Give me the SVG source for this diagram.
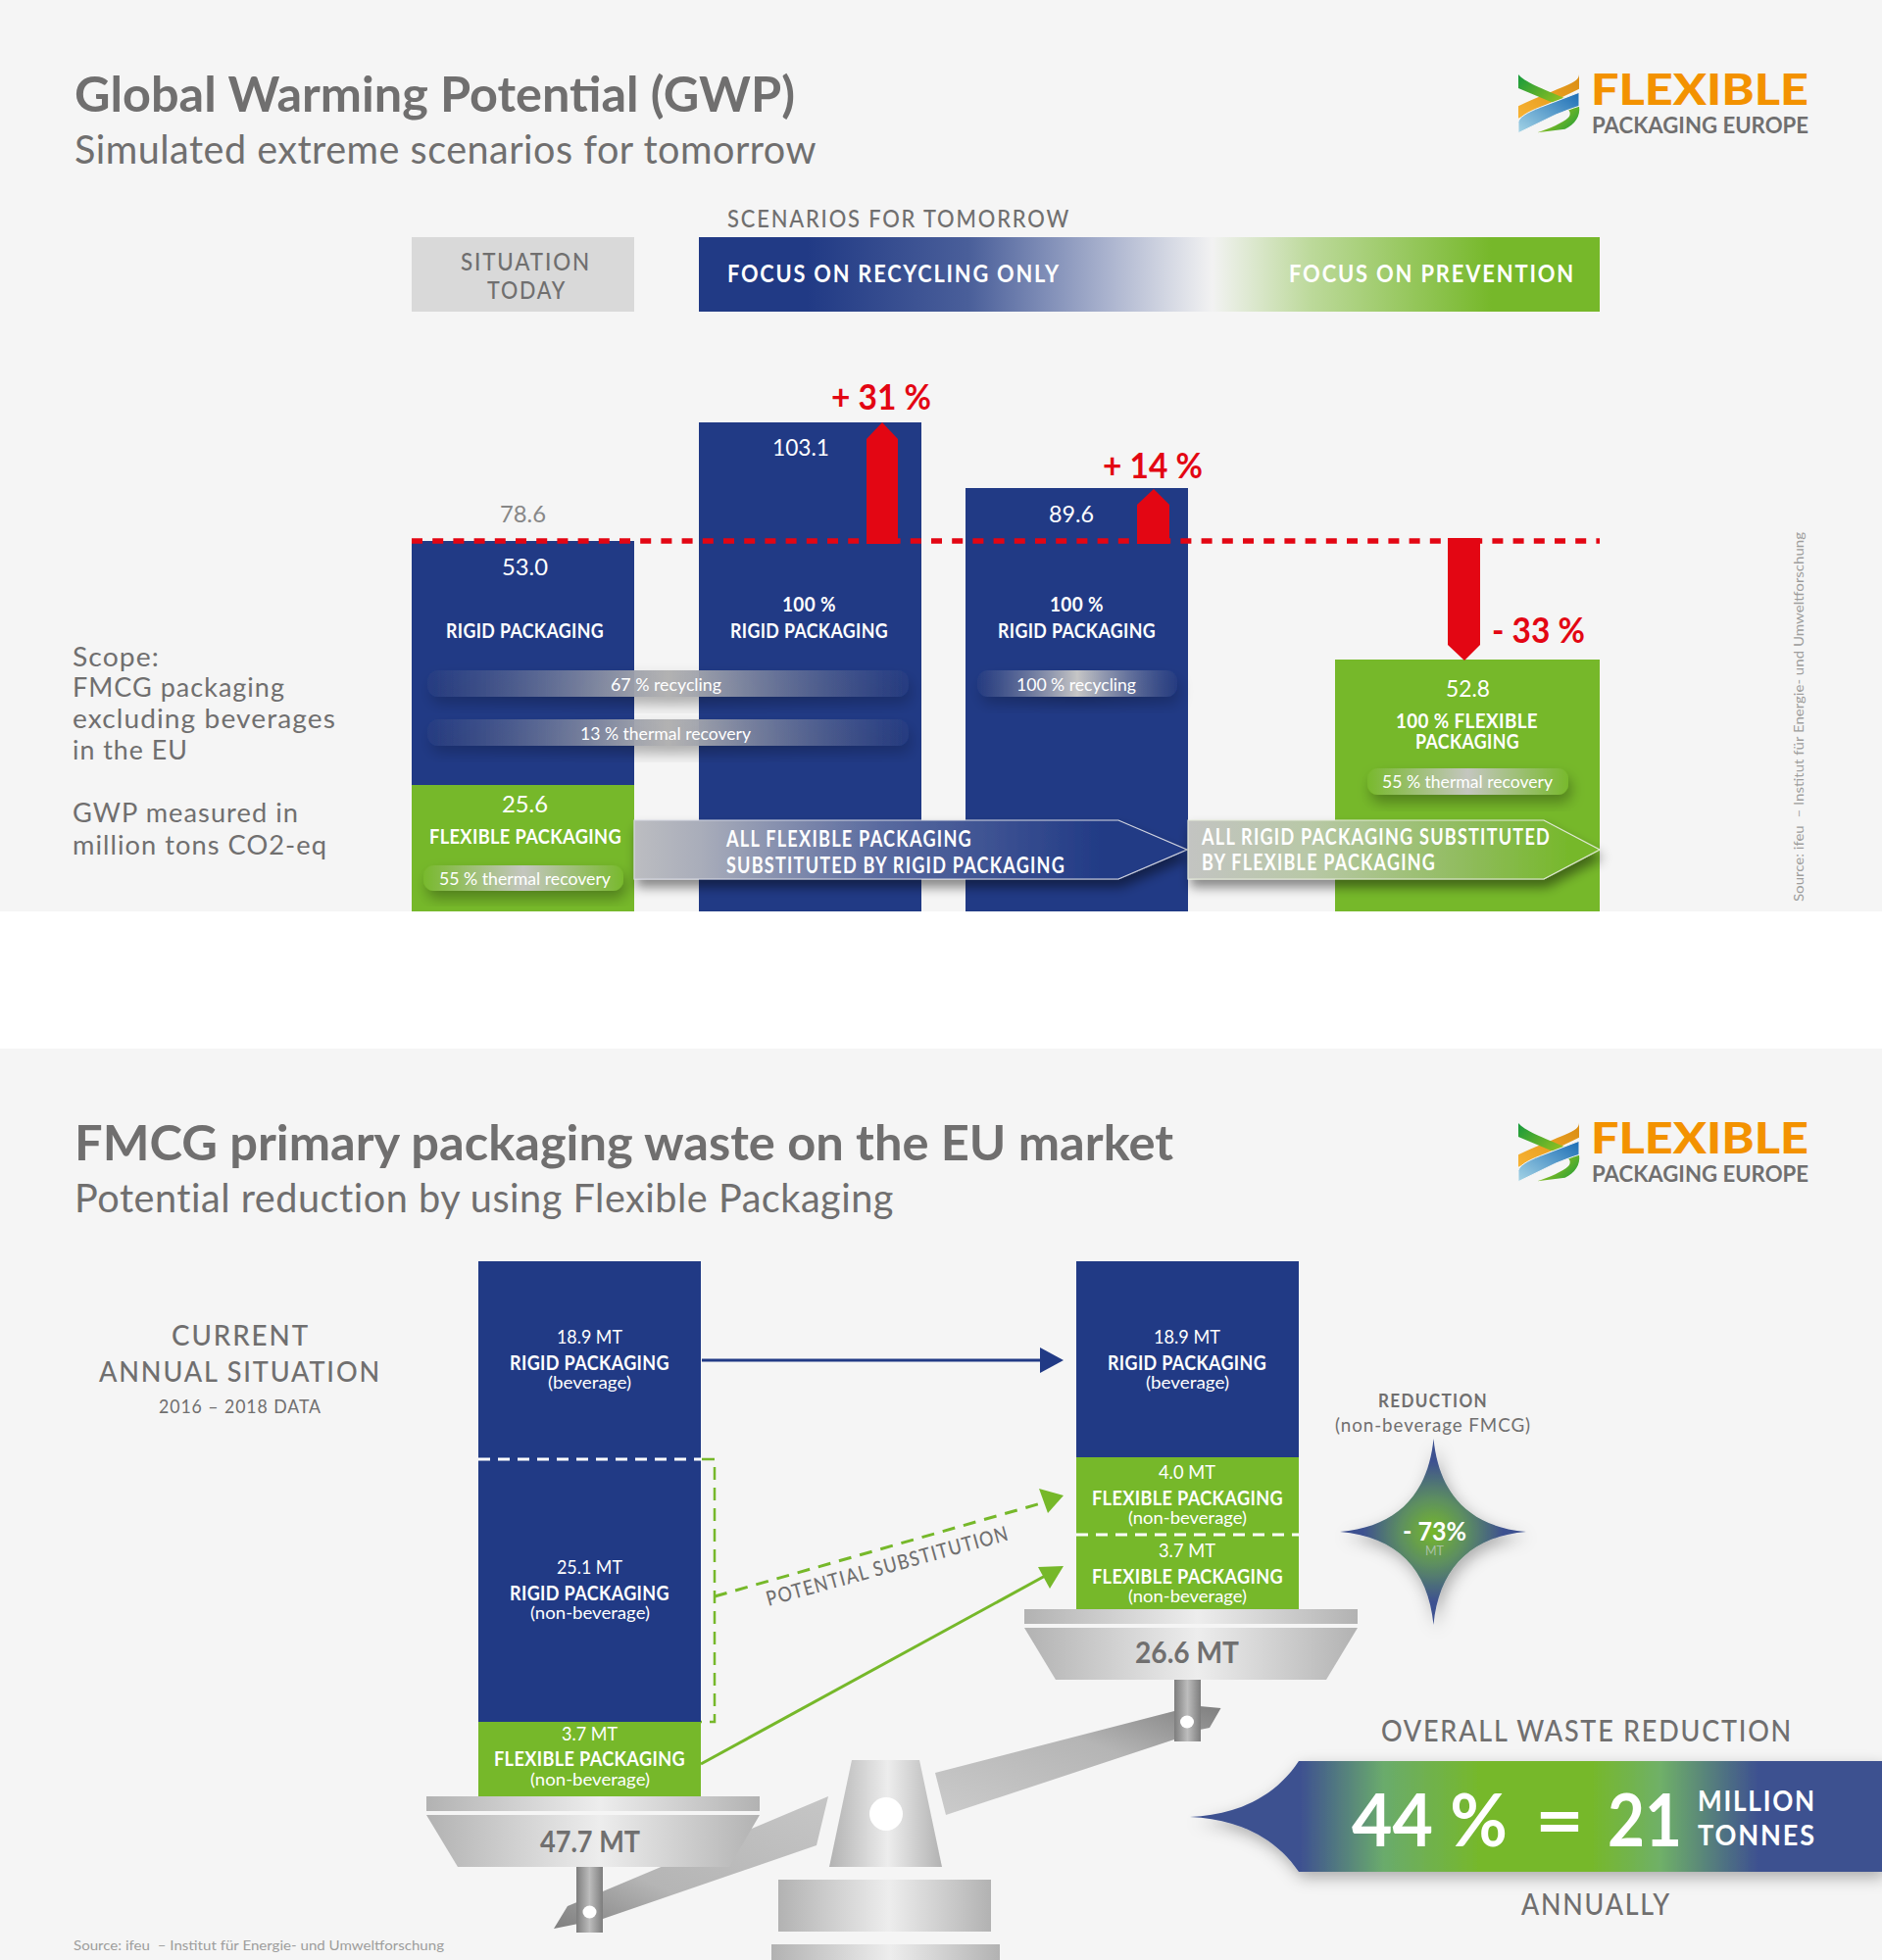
<svg xmlns="http://www.w3.org/2000/svg" width="1920" height="2000" viewBox="0 0 1920 2000">
<style>
text{font-family:"Lato","Noto Sans","Liberation Sans",sans-serif;white-space:pre}
.title{font-size:50px;font-weight:700;fill:#706f6f}
.sub{font-size:40px;fill:#706f6f;letter-spacing:.5px}
.lab{font-size:26px;fill:#706f6f;font-weight:400;letter-spacing:1px}
.head{font-size:24px;fill:#706f6f;letter-spacing:2px;font-weight:500}
.whead{font-size:24px;fill:#fff;font-weight:700;letter-spacing:2px}
.val{font-size:24px;fill:#fff}
.red{font-size:37px;fill:#e30613;font-weight:700}
.pk{font-size:20px;fill:#fff;font-weight:700;letter-spacing:.4px}
.ar{font-size:22px;fill:#fff;font-weight:700;letter-spacing:1.500px}
.sm{font-size:18px;fill:#fff}
.blue{fill:#213a85}.green{fill:#76b82a}
.metal{fill:url(#metal)}
.post{fill:url(#post)}
.src{font-size:14px;fill:#9d9d9c}
.w{fill:#fff}
</style>
<defs>
<linearGradient id="scen" x1="0" x2="1" y1="0" y2="0"><stop offset=".12" stop-color="#213a85"/><stop offset=".3" stop-color="#4a5f9a"/><stop offset=".45" stop-color="#a8b1cd"/><stop offset=".57" stop-color="#f2f2f2"/><stop offset=".68" stop-color="#bcd99a"/><stop offset=".88" stop-color="#76b82a"/></linearGradient>
<linearGradient id="band" x1="0" x2="1" y1="0" y2="0"><stop offset="0" stop-color="#2a3f82" stop-opacity=".6"/><stop offset=".5" stop-color="#b2b2b2"/><stop offset="1" stop-color="#2a3f82" stop-opacity=".6"/></linearGradient>
<linearGradient id="band2" x1="0" x2="1" y1="0" y2="0"><stop offset="0" stop-color="#2a3f82" stop-opacity=".6"/><stop offset=".5" stop-color="#c6c6c6"/><stop offset="1" stop-color="#2a3f82" stop-opacity=".6"/></linearGradient>
<linearGradient id="pill" x1="0" x2="1" y1="0" y2="0"><stop offset="0" stop-color="#78b92d"/><stop offset=".5" stop-color="#c4c6bf"/><stop offset="1" stop-color="#78b92d"/></linearGradient>
<linearGradient id="arrB" x1="0" x2="1" y1="0" y2="0"><stop offset="0" stop-color="#bcbdc1"/><stop offset=".12" stop-color="#a9adba"/><stop offset=".45" stop-color="#58699f"/><stop offset=".85" stop-color="#213a85"/></linearGradient>
<linearGradient id="arrG" x1="0" x2="1" y1="0" y2="0"><stop offset="0" stop-color="#c3c4c2"/><stop offset=".3" stop-color="#b8c8a6"/><stop offset=".7" stop-color="#8dbb58"/><stop offset=".93" stop-color="#76b82a"/></linearGradient>
<linearGradient id="metal" x1="0" x2="1" y1="0" y2="0"><stop offset="0" stop-color="#b2b2b2"/><stop offset=".52" stop-color="#ededed"/><stop offset="1" stop-color="#b2b2b2"/></linearGradient>
<linearGradient id="post" x1="0" x2="1" y1="0" y2="0"><stop offset="0" stop-color="#7d7d7d"/><stop offset=".5" stop-color="#bdbdbd"/><stop offset="1" stop-color="#7d7d7d"/></linearGradient>
<linearGradient id="beamL" x1="0" x2="1" y1="1" y2="0"><stop offset="0" stop-color="#7f7f7f"/><stop offset=".35" stop-color="#b5b5b5"/><stop offset="1" stop-color="#c6c6c6"/></linearGradient>
<linearGradient id="beamR" x1="1" x2="0" y1="0" y2="1"><stop offset="0" stop-color="#7f7f7f"/><stop offset=".4" stop-color="#b5b5b5"/><stop offset="1" stop-color="#cbcbcb"/></linearGradient>
<linearGradient id="banner" gradientUnits="userSpaceOnUse" x1="1214" x2="1920" y1="0" y2="0"><stop offset=".16" stop-color="#3e5190"/><stop offset=".28" stop-color="#6aab6c"/><stop offset=".42" stop-color="#76b82a"/><stop offset=".58" stop-color="#76b82a"/><stop offset=".68" stop-color="#6fb068"/><stop offset=".82" stop-color="#3e5190"/></linearGradient>
<radialGradient id="star" cx=".5" cy=".5" r=".5"><stop offset="0" stop-color="#76b82a"/><stop offset=".35" stop-color="#5d8f60"/><stop offset=".75" stop-color="#3e5190"/></radialGradient>
<linearGradient id="lo" x1="0" x2="1" y1="1" y2="0"><stop offset="0" stop-color="#f8b333"/><stop offset="1" stop-color="#d98c12"/></linearGradient>
<linearGradient id="lb" x1="0" x2="1" y1="1" y2="0"><stop offset="0" stop-color="#a4d4e6"/><stop offset="1" stop-color="#1b6db5"/></linearGradient>
<linearGradient id="lg" x1="0" x2="1" y1="0" y2="1"><stop offset="0" stop-color="#159a3c"/><stop offset=".6" stop-color="#95c11f"/><stop offset="1" stop-color="#159a3c"/></linearGradient>
<filter id="sh" x="-10%" y="-40%" width="120%" height="200%"><feDropShadow dx="3" dy="8" stdDeviation="7" flood-color="#000" flood-opacity=".3"/></filter>
<filter id="shA" x="-10%" y="-40%" width="120%" height="200%"><feDropShadow dx="3" dy="8" stdDeviation="6" flood-color="#000" flood-opacity=".45"/></filter>
<filter id="shS" x="-30%" y="-30%" width="160%" height="160%"><feDropShadow dx="3" dy="6" stdDeviation="8" flood-color="#000" flood-opacity=".3"/></filter>
<marker id="mB" markerUnits="userSpaceOnUse" markerWidth="24" markerHeight="26" refX="1" refY="13" orient="auto"><path d="M0 0L24 13L0 26Z" fill="#213a85"/></marker>
<g id="logo">
<g transform="translate(1500 40) scale(.3333)">
<path d="M333 108V152L147 242V205C200 180 240 165 280 148C310 136 333 125 333 108Z" fill="url(#lo)"/>
<path d="M147 108C165 130 215 150 300 185L333 205C338 235 320 262 290 275L205 286C240 275 285 255 300 240C310 230 305 215 290 210L147 150Z" fill="url(#lg)"/>
<path d="M333 163V205C310 212 290 220 260 232L147 287V253C150 240 170 225 215 208Z" fill="url(#lb)" stroke="#f5f5f5" stroke-width="3"/>
</g>
<text x="1623" y="107" font-size="44" font-weight="900" fill="#f39200" textLength="222" lengthAdjust="spacingAndGlyphs">FLEXIBLE</text>
<text x="1624" y="136" font-size="23" font-weight="700" fill="#706f6f" textLength="221" lengthAdjust="spacingAndGlyphs">PACKAGING EUROPE</text>
</g>
</defs>

<rect width="1920" height="2000" fill="#f5f5f5"/>
<rect y="930" width="1920" height="140" fill="#fff"/>

<g id="chart1-header">
<text class="title" x="76" y="114" textLength="735" lengthAdjust="spacingAndGlyphs">Global Warming Potential (GWP)</text>
<text class="sub" x="76" y="167" textLength="757" lengthAdjust="spacingAndGlyphs">Simulated extreme scenarios for tomorrow</text>
</g>
<use href="#logo"/>

<g id="scenarios">
<text class="head" x="742" y="232" textLength="350" lengthAdjust="spacingAndGlyphs">SCENARIOS FOR TOMORROW</text>
<rect x="420" y="242" width="227" height="76" fill="#d9d9d9"/>
<text class="head" x="470" y="276" textLength="133" lengthAdjust="spacingAndGlyphs">SITUATION</text>
<text class="head" x="497" y="305" textLength="81" lengthAdjust="spacingAndGlyphs">TODAY</text>
<rect x="713" y="242" width="919" height="76" fill="url(#scen)"/>
<text class="whead" x="742" y="288" textLength="340" lengthAdjust="spacingAndGlyphs">FOCUS ON RECYCLING ONLY</text>
<text class="whead" x="1315" y="288" textLength="292" lengthAdjust="spacingAndGlyphs">FOCUS ON PREVENTION</text>
</g>

<g id="scope">
<text class="lab" x="74" y="680" textLength="89" lengthAdjust="spacingAndGlyphs">Scope:</text>
<text class="lab" x="74" y="711" textLength="217" lengthAdjust="spacingAndGlyphs">FMCG packaging</text>
<text class="lab" x="74" y="743" textLength="269" lengthAdjust="spacingAndGlyphs">excluding beverages</text>
<text class="lab" x="74" y="775" textLength="118" lengthAdjust="spacingAndGlyphs">in the EU</text>
<text class="lab" x="74" y="839" textLength="231" lengthAdjust="spacingAndGlyphs">GWP measured in</text>
<text class="lab" x="74" y="872" textLength="260" lengthAdjust="spacingAndGlyphs">million tons CO2-eq</text>
</g>

<g id="bar-today">
<rect class="blue" x="420" y="552" width="227" height="249"/>
<rect class="green" x="420" y="801" width="227" height="129"/>
</g>
<g id="bar-rigid-1"><rect class="blue" x="713" y="431" width="227" height="499"/></g>
<g id="bar-rigid-2"><rect class="blue" x="985" y="498" width="227" height="432"/></g>
<g id="bar-flex"><rect class="green" x="1362" y="673" width="270" height="257"/></g>

<g id="baseline"><line x1="420" y1="552" x2="1632" y2="552" stroke="#e30613" stroke-width="5.500" stroke-dasharray="11 10.200"/></g>

<g id="red-arrows" fill="#e30613">
<path d="M884 555V448L900 431L916 448V555Z"/>
<path d="M1160 555V515L1177 499L1193 515V555Z"/>
<path d="M1477 549H1510V658L1494 674L1477 658Z"/>
<text class="red" x="848" y="418" textLength="102" lengthAdjust="spacingAndGlyphs">+ 31 %</text>
<text class="red" x="1125" y="488" textLength="102" lengthAdjust="spacingAndGlyphs">+ 14 %</text>
<text class="red" x="1522" y="656" textLength="95" lengthAdjust="spacingAndGlyphs">- 33 %</text>
</g>

<g id="bar-values">
<text class="val" x="510" y="533" textLength="47" lengthAdjust="spacingAndGlyphs" style="fill:#878787">78.6</text>
<text class="val" x="512" y="587" textLength="47" lengthAdjust="spacingAndGlyphs">53.0</text>
<text class="val" x="788" y="465" textLength="58" lengthAdjust="spacingAndGlyphs">103.1</text>
<text class="val" x="1070" y="533" textLength="46" lengthAdjust="spacingAndGlyphs">89.6</text>
<text class="pk" x="798" y="624" textLength="55" lengthAdjust="spacingAndGlyphs">100 %</text>
<text class="pk" x="1071" y="624" textLength="55" lengthAdjust="spacingAndGlyphs">100 %</text>
<text class="pk" x="455" y="651" textLength="161" lengthAdjust="spacingAndGlyphs">RIGID PACKAGING</text>
<text class="pk" x="745" y="651" textLength="161" lengthAdjust="spacingAndGlyphs">RIGID PACKAGING</text>
<text class="pk" x="1018" y="651" textLength="161" lengthAdjust="spacingAndGlyphs">RIGID PACKAGING</text>
<text class="val" x="512" y="829" textLength="47" lengthAdjust="spacingAndGlyphs">25.6</text>
<text class="pk" x="438" y="861" textLength="196" lengthAdjust="spacingAndGlyphs">FLEXIBLE PACKAGING</text>
<text class="val" x="1475" y="711" textLength="45" lengthAdjust="spacingAndGlyphs">52.8</text>
<text class="pk" x="1424" y="743" textLength="145" lengthAdjust="spacingAndGlyphs">100 % FLEXIBLE</text>
<text class="pk" x="1444" y="764" textLength="106" lengthAdjust="spacingAndGlyphs">PACKAGING</text>
</g>

<g id="band-67"><rect x="436" y="684" width="491" height="27" rx="11" fill="url(#band)" filter="url(#sh)"/><text class="sm" x="623" y="705" textLength="113" lengthAdjust="spacingAndGlyphs">67 % recycling</text></g>
<g id="band-13"><rect x="436" y="734" width="491" height="27" rx="11" fill="url(#band)" filter="url(#sh)"/><text class="sm" x="592" y="755" textLength="174" lengthAdjust="spacingAndGlyphs">13 % thermal recovery</text></g>
<g id="band-100"><rect x="997" y="684" width="204" height="27" rx="11" fill="url(#band2)" filter="url(#sh)"/><text class="sm" x="1037" y="705" textLength="122" lengthAdjust="spacingAndGlyphs">100 % recycling</text></g>
<g id="pill-55a"><rect x="432" y="883" width="204" height="26" rx="11" fill="url(#pill)" filter="url(#sh)"/><text class="sm" x="448" y="903" textLength="175" lengthAdjust="spacingAndGlyphs">55 % thermal recovery</text></g>
<g id="pill-55b"><rect x="1395" y="784" width="205" height="27" rx="11" fill="url(#pill)" filter="url(#sh)"/><text class="sm" x="1410" y="804" textLength="174" lengthAdjust="spacingAndGlyphs">55 % thermal recovery</text></g>

<g id="arrow-to-rigid">
<path d="M647 837H1141L1211 867L1141 897H647Z" fill="url(#arrB)" stroke="#d5d8e2" stroke-width="1.200" filter="url(#shA)"/>
<text class="ar" x="741" y="864" textLength="251" lengthAdjust="spacingAndGlyphs">ALL FLEXIBLE PACKAGING</text>
<text class="ar" x="741" y="891" textLength="346" lengthAdjust="spacingAndGlyphs">SUBSTITUTED BY RIGID PACKAGING</text>
</g>
<g id="arrow-to-flex">
<path d="M1212 837H1575L1632 867L1575 897H1212Z" fill="url(#arrG)" stroke="#e3ead8" stroke-width="1.200" filter="url(#shA)"/>
<text class="ar" x="1226" y="862" textLength="356" lengthAdjust="spacingAndGlyphs">ALL RIGID PACKAGING SUBSTITUTED</text>
<text class="ar" x="1226" y="888" textLength="239" lengthAdjust="spacingAndGlyphs">BY FLEXIBLE PACKAGING</text>
</g>

<text class="src" transform="translate(1840 920) rotate(-90)" textLength="377" lengthAdjust="spacingAndGlyphs">Source: ifeu  – Institut für Energie- und Umweltforschung</text>

<g id="chart2-header">
<text class="title" x="76" y="1184" textLength="1121" lengthAdjust="spacingAndGlyphs">FMCG primary packaging waste on the EU market</text>
<text class="sub" x="76" y="1237" textLength="836" lengthAdjust="spacingAndGlyphs">Potential reduction by using Flexible Packaging</text>
</g>
<use href="#logo" y="1070"/>

<g id="current-label">
<text class="head" x="175" y="1373" textLength="141" lengthAdjust="spacingAndGlyphs" style="font-size:29px">CURRENT</text>
<text class="head" x="101" y="1410" textLength="288" lengthAdjust="spacingAndGlyphs" style="font-size:29px">ANNUAL SITUATION</text>
<text class="head" x="162" y="1442" textLength="166" lengthAdjust="spacingAndGlyphs" style="font-size:19px;letter-spacing:1px;font-weight:400">2016 – 2018 DATA</text>
</g>

<g id="beam-left"><path d="M845 1833L833 1883L615 1958L565 1968L579 1945L615 1930Z" fill="url(#beamL)"/></g>
<g id="beam-right"><path d="M954 1809L965 1852L1198 1775L1224 1765L1234 1763L1245.500 1743L1224 1741L1198 1746Z" fill="url(#beamR)"/></g>

<g id="stack-left">
<rect class="blue" x="488" y="1287" width="227" height="470"/>
<rect class="green" x="488" y="1757" width="227" height="76"/>
<text class="val" x="568" y="1371" textLength="67" lengthAdjust="spacingAndGlyphs" style="font-size:19px">18.9 MT</text>
<text class="pk" x="520" y="1398" textLength="163" lengthAdjust="spacingAndGlyphs">RIGID PACKAGING</text>
<text class="sm" x="559" y="1417" textLength="85" lengthAdjust="spacingAndGlyphs">(beverage)</text>
<text class="val" x="568" y="1606" textLength="67" lengthAdjust="spacingAndGlyphs" style="font-size:19px">25.1 MT</text>
<text class="pk" x="520" y="1633" textLength="163" lengthAdjust="spacingAndGlyphs">RIGID PACKAGING</text>
<text class="sm" x="541" y="1652" textLength="122" lengthAdjust="spacingAndGlyphs">(non-beverage)</text>
<text class="val" x="573" y="1776" textLength="57" lengthAdjust="spacingAndGlyphs" style="font-size:19px">3.7 MT</text>
<text class="pk" x="504" y="1802" textLength="195" lengthAdjust="spacingAndGlyphs">FLEXIBLE PACKAGING</text>
<text class="sm" x="541" y="1822" textLength="122" lengthAdjust="spacingAndGlyphs">(non-beverage)</text>
</g>

<g id="stack-right">
<rect class="blue" x="1098" y="1287" width="227" height="200"/>
<rect class="green" x="1098" y="1487" width="227" height="155"/>
<line x1="1098" y1="1566" x2="1325" y2="1566" stroke="#fff" stroke-width="3" stroke-dasharray="12 8"/>
<text class="val" x="1177" y="1371" textLength="68" lengthAdjust="spacingAndGlyphs" style="font-size:19px">18.9 MT</text>
<text class="pk" x="1130" y="1398" textLength="162" lengthAdjust="spacingAndGlyphs">RIGID PACKAGING</text>
<text class="sm" x="1169" y="1417" textLength="85" lengthAdjust="spacingAndGlyphs">(beverage)</text>
<text class="val" x="1182" y="1509" textLength="58" lengthAdjust="spacingAndGlyphs" style="font-size:19px">4.0 MT</text>
<text class="pk" x="1114" y="1536" textLength="195" lengthAdjust="spacingAndGlyphs">FLEXIBLE PACKAGING</text>
<text class="sm" x="1151" y="1555" textLength="121" lengthAdjust="spacingAndGlyphs">(non-beverage)</text>
<text class="val" x="1182" y="1589" textLength="58" lengthAdjust="spacingAndGlyphs" style="font-size:19px">3.7 MT</text>
<text class="pk" x="1114" y="1616" textLength="195" lengthAdjust="spacingAndGlyphs">FLEXIBLE PACKAGING</text>
<text class="sm" x="1151" y="1635" textLength="121" lengthAdjust="spacingAndGlyphs">(non-beverage)</text>
</g>

<g id="connectors" fill="none">
<line x1="716" y1="1388" x2="1062" y2="1388" stroke="#213a85" stroke-width="3" marker-end="url(#mB)"/>
<line x1="488" y1="1489" x2="716" y2="1489" stroke="#fff" stroke-width="3" stroke-dasharray="12 8"/>
<path d="M716 1489H729V1757H715" stroke="#76b82a" stroke-width="2.500" stroke-dasharray="13 8"/>
<path d="M729 1629L1062 1534" stroke="#76b82a" stroke-width="3" stroke-dasharray="13 9"/>
<path d="M1085 1526L1060 1519L1069 1544Z" fill="#76b82a"/>
<line x1="715" y1="1800" x2="1068" y2="1607" stroke="#76b82a" stroke-width="3"/>
<path d="M1085 1598L1059 1599L1071 1621Z" fill="#76b82a"/>
</g>
<text class="head" transform="translate(784 1639) rotate(-15.400)" textLength="256" lengthAdjust="spacingAndGlyphs" style="font-size:21px;letter-spacing:1.500px">POTENTIAL SUBSTITUTION</text>

<g id="pan-left">
<rect class="metal" x="435" y="1833" width="340" height="15"/>
<path class="metal" d="M435 1852H775L744 1905H467Z"/>
<text x="551" y="1890" font-size="30" font-weight="700" fill="#706f6f" textLength="102" lengthAdjust="spacingAndGlyphs">47.7 MT</text>
<rect class="post" x="588" y="1905" width="27" height="67"/>
<ellipse class="w" cx="601.500" cy="1951" rx="7" ry="6.500"/>
</g>
<g id="pan-right">
<rect class="metal" x="1045" y="1642" width="340" height="15"/>
<path class="metal" d="M1045 1661H1385L1353 1714H1077Z"/>
<text x="1158" y="1697" font-size="30" font-weight="700" fill="#706f6f" textLength="106" lengthAdjust="spacingAndGlyphs">26.6 MT</text>
<rect class="post" x="1198" y="1714" width="27" height="63"/>
<ellipse class="w" cx="1211" cy="1757" rx="7" ry="6.500"/>
</g>
<g id="pivot">
<path class="metal" d="M869 1796H938L961 1905H846Z"/>
<circle class="w" cx="904" cy="1851" r="17"/>
<rect class="metal" x="794" y="1918" width="217" height="53"/>
<rect class="metal" x="787" y="1984" width="233" height="16"/>
</g>

<g id="reduction">
<text class="head" x="1406" y="1436" textLength="112" lengthAdjust="spacingAndGlyphs" style="font-size:19px;font-weight:700;letter-spacing:1.500px">REDUCTION</text>
<text class="head" x="1362" y="1461" textLength="200" lengthAdjust="spacingAndGlyphs" style="font-size:20px;letter-spacing:1px;font-weight:400">(non-beverage FMCG)</text>
<path d="M1462.500 1468C1468 1525 1500 1558 1557 1563C1500 1568 1468 1601 1462.500 1658C1457 1601 1425 1568 1367 1563C1425 1558 1457 1525 1462.500 1468Z" fill="url(#star)" filter="url(#shS)"/>
<text x="1431" y="1572" font-size="26" font-weight="700" fill="#fff" textLength="65" lengthAdjust="spacingAndGlyphs">- 73%</text>
<text x="1454" y="1587" font-size="13" fill="#a8c0a8" textLength="19" lengthAdjust="spacingAndGlyphs">MT</text>
</g>

<g id="overall">
<text class="head" x="1409" y="1777" textLength="420" lengthAdjust="spacingAndGlyphs" style="font-size:30px">OVERALL WASTE REDUCTION</text>
<path d="M1214 1854C1260 1852 1300 1835 1325 1797H1920V1910H1325C1300 1873 1260 1856 1214 1854Z" fill="url(#banner)" filter="url(#shS)"/>
<text x="1379" y="1884" font-size="74" font-weight="700" fill="#fff" textLength="159" lengthAdjust="spacingAndGlyphs">44 %</text>
<text x="1566" y="1884" font-size="74" font-weight="700" fill="#fff" textLength="50" lengthAdjust="spacingAndGlyphs">=</text>
<text x="1640" y="1884" font-size="74" font-weight="700" fill="#fff" textLength="76" lengthAdjust="spacingAndGlyphs">21</text>
<text x="1732" y="1848" font-size="29" fill="#fff" font-weight="700" textLength="121" style="letter-spacing:2px" lengthAdjust="spacingAndGlyphs">MILLION</text>
<text x="1732" y="1883" font-size="29" fill="#fff" font-weight="700" textLength="121" style="letter-spacing:2px" lengthAdjust="spacingAndGlyphs">TONNES</text>
<text class="head" x="1552" y="1954" textLength="153" lengthAdjust="spacingAndGlyphs" style="font-size:30px">ANNUALLY</text>
</g>

<text class="src" x="75" y="1990" textLength="378" lengthAdjust="spacingAndGlyphs">Source: ifeu  – Institut für Energie- und Umweltforschung</text>
</svg>
